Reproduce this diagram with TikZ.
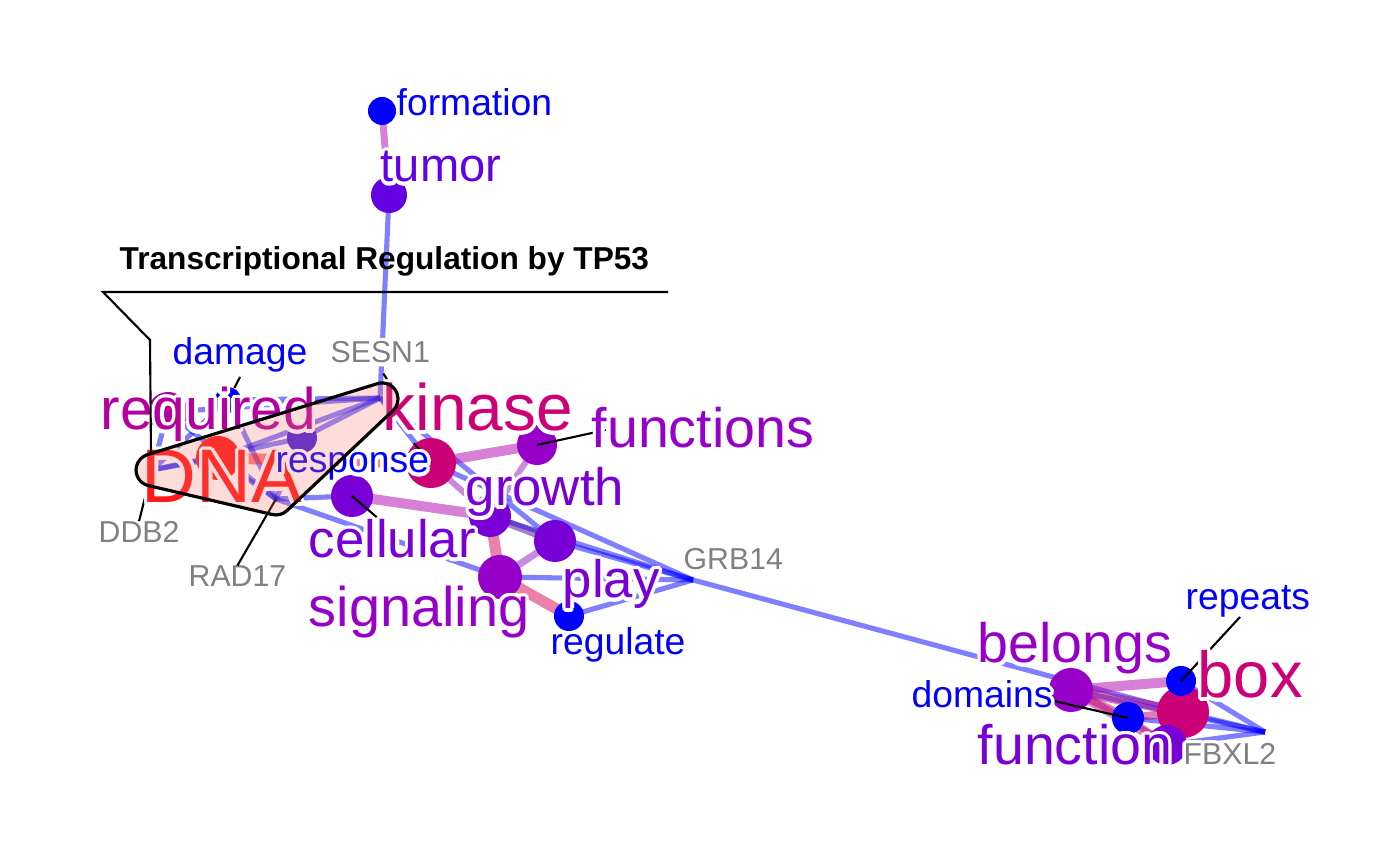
\documentclass[tikz,border=0pt]{standalone}
\usepackage{fontspec}
\setmainfont{Liberation Sans}
\usepackage{contour}
\contourlength{1pt}
\usepackage{tikz}
\pgfdeclarelayer{edgelayer}
\pgfsetlayers{edgelayer,main}
\definecolor{wblue}{RGB}{0,0,255}
\definecolor{wtumor}{RGB}{100,0,225}
\definecolor{wreq}{RGB}{180,0,160}
\definecolor{wkin}{RGB}{204,0,119}
\definecolor{wpurp}{RGB}{150,0,200}
\definecolor{wviol}{RGB}{120,0,215}
\definecolor{wdna}{RGB}{255,25,25}
\definecolor{wresp}{RGB}{64,32,220}
\definecolor{genegray}{RGB}{128,128,128}
\definecolor{hullred}{RGB}{248,118,109}
\definecolor{epink}{RGB}{215,5,85}
\definecolor{eorchid}{RGB}{175,5,175}
\definecolor{elilac}{RGB}{145,25,195}
\definecolor{egrape}{RGB}{70,0,160}
\definecolor{erose}{RGB}{185,0,120}
\newcommand{\lblsize}[1]{\fontsize{#1}{#1}\selectfont}

\begin{document}
\begin{tikzpicture}[
  x=0.01cm, y=-0.01cm,
  word/.style={circle, inner sep=0pt, minimum size=#1*0.02cm},
  lab/.style={anchor=base west, inner sep=0pt},
  wlab/.style={lab, font=\lblsize{#1}},
  gname/.style={lab, text=genegray, font=\lblsize{8.6}},
  link/.style={draw=blue, opacity=.5, line width=1.45pt},
  cooc/.style={opacity=.5, line width=#1*0.01cm},
  leader/.style={draw=black, line width=0.6pt},
  hull/.style={draw=black, line width=0.9pt, fill=hullred, fill opacity=.25}
]
  \useasboundingbox (0,0) rectangle (1400,865);

  % genes
  \coordinate (sesn1) at (380,398);
  \coordinate (ddb2) at (152,470);
  \coordinate (rad17) at (276,499);
  \coordinate (grb14) at (693,580);
  \coordinate (fbxl2) at (1265,732);

  % words
  \node[word=14, fill=wblue] (formation) at (382,111) {};
  \node[word=18, fill=wtumor] (tumor) at (389,195) {};
  \node[word=20, fill=wreq] (required) at (168,412) {};
  \node[word=13, fill=wblue] (damage) at (228,400) {};
  \node[word=22, fill=wdna] (dna) at (218,458) {};
  \node[word=15, fill=wresp] (response) at (302,438) {};
  \node[word=25, fill=wkin] (kinase) at (431,463) {};
  \node[word=20, fill=wpurp] (functions) at (537,445) {};
  \node[word=21, fill=wviol] (cellular) at (352,496) {};
  \node[word=21, fill=wviol] (growth) at (490,516) {};
  \node[word=21, fill=wviol] (play) at (555,541) {};
  \node[word=22, fill=wpurp] (signaling) at (500,577) {};
  \node[word=15, fill=wblue] (regulate) at (569,616) {};
  \node[word=26, fill=wkin] (box) at (1183,712) {};
  \node[word=15, fill=wblue] (repeats) at (1181,681) {};
  \node[word=16, fill=wblue] (domains) at (1128,718) {};
  \node[word=20, fill=wviol] (function) at (1167,745) {};
  \node[word=22, fill=wpurp] (belongs) at (1071,690) {};

  \begin{pgfonlayer}{edgelayer}
    \fill[white] (0,0) rectangle (1400,865);
    % gene links
    \foreach \w in {tumor,required,damage,dna,response,kinase,play}
      \draw[link] (sesn1) -- (\w.center);
    \foreach \w in {required,damage,dna,response}
      \draw[link] (ddb2) -- (\w.center);
    \foreach \w in {required,damage,dna,response,cellular,signaling}
      \draw[link] (rad17) -- (\w.center);
    \foreach \w in {kinase,growth,play,signaling,regulate,box}
      \draw[link] (grb14) -- (\w.center);
    \foreach \w in {belongs,box,repeats,domains,function}
      \draw[link] (fbxl2) -- (\w.center);
    % word co-occurrence
    \draw[cooc=7, draw=eorchid] (formation.center) -- (tumor.center);
    \draw[cooc=11, draw=red] (dna.center) -- (kinase.center);
    \draw[cooc=10, draw=eorchid] (kinase.center) -- (functions.center);
    \draw[cooc=6, draw=elilac] (kinase.center) -- (growth.center);
    \draw[cooc=6, draw=elilac] (functions.center) -- (growth.center);
    \draw[cooc=10, draw=eorchid] (cellular.center) -- (growth.center);
    \draw[cooc=8, draw=egrape] (growth.center) -- (play.center);
    \draw[cooc=11, draw=epink] (growth.center) -- (signaling.center);
    \draw[cooc=7, draw=elilac] (play.center) -- (signaling.center);
    \draw[cooc=11, draw=epink] (signaling.center) -- (regulate.center);
    \draw[cooc=10, draw=eorchid] (belongs.center) -- (repeats.center);
    \draw[cooc=10, draw=erose] (belongs.center) -- (box.center);
    \draw[cooc=8, draw=erose] (belongs.center) -- (domains.center);
    \draw[cooc=9, draw=erose] (belongs.center) -- (function.center);
    \draw[cooc=8, draw=erose] (box.center) -- (domains.center);
    \draw[cooc=8, draw=erose] (box.center) -- (function.center);
    \draw[cooc=7, draw=elilac] (repeats.center) -- (box.center);
    \draw[cooc=7, draw=erose] (domains.center) -- (function.center);
  \end{pgfonlayer}

  % labels
  \node[wlab=10.6, text=wblue] (formation-l) at (396,116) {\contour{white}{formation}};
  \node[wlab=13.4, text=wtumor] (tumor-l) at (380,182) {\contour{white}{tumor}};
  \node[wlab=10.6, text=wblue] (damage-l) at (172,365) {\contour{white}{damage}};
  \node[gname] (sesn1-l) at (330,363) {\contour{white}{SESN1}};
  \node[gname] (ddb2-l) at (98,543) {\contour{white}{DDB2}};
  \node[gname] (rad17-l) at (188,587) {\contour{white}{RAD17}};
  \node[gname] (grb14-l) at (683,570) {\contour{white}{GRB14}};
  \node[gname] (fbxl2-l) at (1183,765) {\contour{white}{FBXL2}};

  \draw[leader] (damage-l.south) -- (damage);
  \draw[leader] ([shift={(3,6)}]sesn1-l.south) -- ([shift={(10,-14)}]sesn1);
  \draw[leader] (ddb2-l.north) -- (ddb2);
  \draw[leader] (rad17-l.north) -- (rad17);
  \draw[leader] ([shift={(-17,6)}]kinase.north) -- (kinase.center);
  \draw[leader] ([shift={(-22,2)}]functions.east) ++(70,-17) -- (functions.center);
  \draw[leader] ([shift={(28,24)}]cellular.center) -- (cellular.center);
  \draw[leader] ([shift={(59,-64)}]repeats.center) -- (repeats.center);
  \draw[leader] ([shift={(-74,-17)}]domains.center) -- (domains.center);

  \node[wlab=16.7, text=wreq] (required-l) at (100,430) {\contour{white}{required}};
  \node[wlab=21.6, text=wdna] (dna-l) at (141,503) {\contour{white}{DNA}};
  \node[wlab=10.6, text=wblue] (response-l) at (275,473) {\contour{white}{response}};
  \node[wlab=18.7, text=wkin] (kinase-l) at (382,431) {\contour{white}{kinase}};
  \node[wlab=15.8, text=wpurp] (functions-l) at (591,448) {\contour{white}{functions}};
  \node[wlab=15, text=wviol] (growth-l) at (465,506) {\contour{white}{growth}};
  \node[wlab=15, text=wviol] (cellular-l) at (308,558) {\contour{white}{cellular}};
  \node[wlab=15, text=wviol] (play-l) at (562,598) {\contour{white}{play}};
  \node[wlab=15.9, text=wpurp] (signaling-l) at (308,627) {\contour{white}{signaling}};
  \node[wlab=10.6, text=wblue] (regulate-l) at (550,655) {\contour{white}{regulate}};
  \node[wlab=10.6, text=wblue] (repeats-l) at (1185,610) {\contour{white}{repeats}};
  \node[wlab=15.8, text=wpurp] (belongs-l) at (977,663) {\contour{white}{belongs}};
  \node[wlab=18.5, text=wkin] (box-l) at (1197,698) {\contour{white}{box}};
  \node[wlab=10.6, text=wblue] (domains-l) at (911,708) {\contour{white}{domains}};
  \node[wlab=15.8, text=wviol] (function-l) at (977,765) {\contour{white}{function}};

  % pathway hull
  \draw[hull] (147.3,454.7) -- (377.3,383.7)
    arc[start angle=-107.16, end angle=46.67, radius=16] -- (287.0,510.6)
    arc[start angle=46.67, end angle=103.16, radius=16] -- (148.4,485.6)
    arc[start angle=103.16, end angle=252.84, radius=16] -- cycle;
  \node[lab, font=\bfseries\lblsize{9}] (tp53-l) at (119,270) {Transcriptional Regulation by TP53};
  \draw[leader] (668,292) -- (103,292) -- (150,340) -- (151,454);
\end{tikzpicture}
\end{document}
